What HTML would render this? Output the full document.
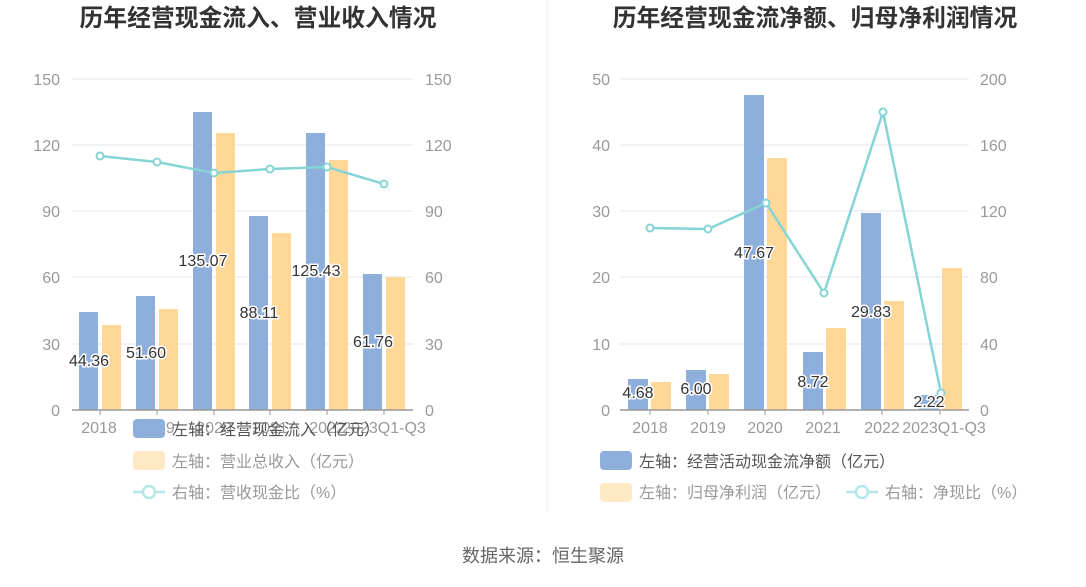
<!DOCTYPE html>
<html><head><meta charset="utf-8"><style>
body{margin:0;background:#fff;}
svg text{font-family:"Liberation Sans","Noto Sans CJK SC",sans-serif;}
</style></head><body>
<svg width="1086" height="582" viewBox="0 0 1086 582" xmlns="http://www.w3.org/2000/svg">
<text x="258" y="26" text-anchor="middle" font-size="23.8" font-weight="bold" fill="#333">历年经营现金流入、营业收入情况</text>
<text x="815" y="26" text-anchor="middle" font-size="23.8" font-weight="bold" fill="#333">历年经营现金流净额、归母净利润情况</text>
<line x1="547" y1="0" x2="547" y2="512" stroke="#eee"/>
<text x="543" y="562" text-anchor="middle" font-size="18" fill="#666">数据来源：恒生聚源</text>

<g id="L" font-size="16" fill="#999">
<g stroke="#e0e6f1">
<line x1="72" y1="79" x2="413" y2="79"/><line x1="72" y1="145" x2="413" y2="145"/><line x1="72" y1="211" x2="413" y2="211"/><line x1="72" y1="277" x2="413" y2="277"/><line x1="72" y1="344" x2="413" y2="344"/>
</g>
<g text-anchor="end"><text x="60" y="85">150</text><text x="60" y="151">120</text><text x="60" y="217">90</text><text x="60" y="283">60</text><text x="60" y="350">30</text><text x="60" y="416">0</text></g>
<g><text x="425" y="85">150</text><text x="425" y="151">120</text><text x="425" y="217">90</text><text x="425" y="283">60</text><text x="425" y="350">30</text><text x="425" y="416">0</text></g>
<g fill="#8eaedb">
<rect x="79" y="312" width="19" height="98"/><rect x="136" y="296" width="19" height="114"/><rect x="193" y="112" width="19" height="298"/><rect x="249" y="216" width="19" height="194"/><rect x="306" y="133" width="19" height="277"/><rect x="363" y="274" width="19" height="136"/>
</g>
<g fill="#ffd797">
<rect x="102" y="325" width="19" height="85"/><rect x="159" y="309" width="19" height="101"/><rect x="216" y="133" width="19" height="277"/><rect x="272" y="233" width="19" height="177"/><rect x="329" y="160" width="19" height="250"/><rect x="386" y="277" width="19" height="133"/>
</g>
<line x1="72" y1="410" x2="413" y2="410" stroke="#999" stroke-width="1.5"/>
<g stroke="#999"><line x1="100" y1="410" x2="100" y2="415"/><line x1="157" y1="410" x2="157" y2="415"/><line x1="214" y1="410" x2="214" y2="415"/><line x1="270" y1="410" x2="270" y2="415"/><line x1="327" y1="410" x2="327" y2="415"/><line x1="384" y1="410" x2="384" y2="415"/></g>
<g text-anchor="middle"><text x="99" y="433">2018</text><text x="157" y="433">2019</text><text x="214" y="433">2020</text><text x="270" y="433">2021</text><text x="327" y="433">2022</text><text x="384" y="433">2023Q1-Q3</text></g>
<polyline points="100,156 157,162 214,173 270,169 327,167 384,184" fill="none" stroke="#86d4d6" stroke-width="2.5"/>
<g fill="#fff" stroke="#86d4d6" stroke-width="2"><circle cx="100" cy="156" r="3.5"/><circle cx="157" cy="162" r="3.5"/><circle cx="214" cy="173" r="3.5"/><circle cx="270" cy="169" r="3.5"/><circle cx="327" cy="167" r="3.5"/><circle cx="384" cy="184" r="3.5"/></g>
<g text-anchor="middle" fill="#333" stroke="#fff" stroke-width="3" paint-order="stroke" font-size="16">
<text x="89" y="366">44.36</text><text x="146" y="358">51.60</text><text x="203" y="266">135.07</text><text x="259" y="318">88.11</text><text x="316" y="276">125.43</text><text x="373" y="347">61.76</text>
</g>
<rect x="133" y="419" width="32" height="19" rx="4" fill="#8eaedb"/>
<text x="172" y="435" fill="#555">左轴：经营现金流入（亿元）</text>
<rect x="133" y="451" width="32" height="19" rx="4" fill="#ffe8c4"/>
<text x="172" y="467" fill="#999">左轴：营业总收入（亿元）</text>
<line x1="133" y1="492" x2="165" y2="492" stroke="#b7e6e7" stroke-width="2.5"/><circle cx="149" cy="492" r="6" fill="#fff" stroke="#b7e6e7" stroke-width="2.5"/>
<text x="172" y="498" fill="#999">右轴：营收现金比（%）</text>
</g>

<g font-size="16" fill="#999">
<g stroke="#e0e6f1">
<line x1="620" y1="79" x2="969" y2="79"/><line x1="620" y1="145" x2="969" y2="145"/><line x1="620" y1="211" x2="969" y2="211"/><line x1="620" y1="277" x2="969" y2="277"/><line x1="620" y1="344" x2="969" y2="344"/>
</g>
<g text-anchor="end"><text x="610" y="85">50</text><text x="610" y="151">40</text><text x="610" y="217">30</text><text x="610" y="283">20</text><text x="610" y="350">10</text><text x="610" y="416">0</text></g>
<g><text x="980" y="85">200</text><text x="980" y="151">160</text><text x="980" y="217">120</text><text x="980" y="283">80</text><text x="980" y="350">40</text><text x="980" y="416">0</text></g>
<g fill="#8eaedb">
<rect x="628" y="379" width="20" height="31"/><rect x="686" y="370" width="20" height="40"/><rect x="744" y="95" width="20" height="315"/><rect x="803" y="352" width="20" height="58"/><rect x="861" y="213" width="20" height="197"/><rect x="919" y="395" width="20" height="15"/>
</g>
<g fill="#ffd797">
<rect x="651" y="382" width="20" height="28"/><rect x="709" y="374" width="20" height="36"/><rect x="767" y="158" width="20" height="252"/><rect x="826" y="328" width="20" height="82"/><rect x="884" y="301" width="20" height="109"/><rect x="942" y="268" width="20" height="142"/>
</g>
<line x1="620" y1="410" x2="969" y2="410" stroke="#999" stroke-width="1.5"/>
<g stroke="#999"><line x1="650" y1="410" x2="650" y2="415"/><line x1="708" y1="410" x2="708" y2="415"/><line x1="765" y1="410" x2="765" y2="415"/><line x1="823" y1="410" x2="823" y2="415"/><line x1="882" y1="410" x2="882" y2="415"/><line x1="940" y1="410" x2="940" y2="415"/></g>
<g text-anchor="middle"><text x="650" y="433">2018</text><text x="708" y="433">2019</text><text x="765" y="433">2020</text><text x="823" y="433">2021</text><text x="882" y="433">2022</text><text x="944" y="433">2023Q1-Q3</text></g>
<polyline points="650,228 708,229 766,203 824,293 883,112 941,393" fill="none" stroke="#86d4d6" stroke-width="2.5"/>
<g fill="#fff" stroke="#86d4d6" stroke-width="2"><circle cx="650" cy="228" r="3.5"/><circle cx="708" cy="229" r="3.5"/><circle cx="766" cy="203" r="3.5"/><circle cx="824" cy="293" r="3.5"/><circle cx="883" cy="112" r="3.5"/><circle cx="941" cy="393" r="3.5"/></g>
<g text-anchor="middle" fill="#333" stroke="#fff" stroke-width="3" paint-order="stroke" font-size="16">
<text x="638" y="398">4.68</text><text x="696" y="394">6.00</text><text x="754" y="258">47.67</text><text x="813" y="387">8.72</text><text x="871" y="317">29.83</text><text x="929" y="407">2.22</text>
</g>
<rect x="600" y="451" width="32" height="19" rx="4" fill="#8eaedb"/>
<text x="639" y="467" fill="#555">左轴：经营活动现金流净额（亿元）</text>
<rect x="600" y="483" width="32" height="19" rx="4" fill="#ffe8c4"/>
<text x="639" y="498" fill="#999">左轴：归母净利润（亿元）</text>
<line x1="846" y1="492" x2="878" y2="492" stroke="#b7e6e7" stroke-width="2.5"/><circle cx="862" cy="492" r="6" fill="#fff" stroke="#b7e6e7" stroke-width="2.5"/>
<text x="885" y="498" fill="#999">右轴：净现比（%）</text>
</g>
</svg>
</body></html>
